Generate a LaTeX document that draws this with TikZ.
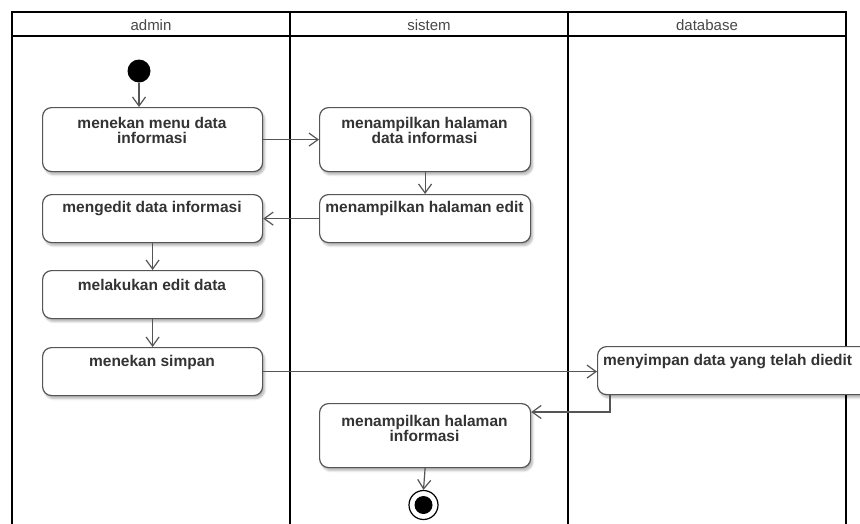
\documentclass[tikz,border=0pt]{standalone}
\usepackage{fontspec}
\setmainfont{Liberation Sans}
\usetikzlibrary{arrows.meta,shadows.blur}
\definecolor{ink}{HTML}{333333}
\definecolor{edge}{HTML}{555555}

\begin{document}
\begin{tikzpicture}[x=1pt,y=-1pt,
  lane/.style={line width=2pt, draw=black},
  act/.style={draw=edge, line width=1.2pt, fill=white, rounded corners=9pt,
    anchor=north west, inner sep=0pt,
    blur shadow={shadow xshift=2pt, shadow yshift=-3pt, shadow opacity=30, shadow blur steps=6}},
  acttext/.style={font=\bfseries\fontsize{15.5}{15}\selectfont, text=ink, align=center, inner sep=0pt},
  flow/.style={draw=edge, line width=1.2pt, -{Straight Barb[length=9pt,width=13pt,line width=1.2pt]}},
  head/.style={font=\fontsize{15}{16}\selectfont, text=ink!90!white}
]
\useasboundingbox (0,0) rectangle (860,523);
\clip (0,0) rectangle (860,523);

% swimlanes
\draw[lane] (12,540) -- (12,12) -- (846,12) -- (846,540);
\draw[lane] (12,36) -- (846,36);
\draw[lane] (290,12) -- (290,540);
\draw[lane] (568,12) -- (568,540);
\node[head] (hadmin) at (151,25) {admin};
\node[head] (hsistem) at (429,25) {sistem};
\node[head] (hdb) at (707,25) {database};

% initial node
\node[circle, fill=black, minimum size=23pt, inner sep=0pt] (start) at (139,71) {};

% admin lane
\node[act, minimum width=220pt, minimum height=64pt] (a1) at (42,107) {};
\node[acttext] (a1t) at (152,130) {menekan menu data\\informasi};
\node[act, minimum width=220pt, minimum height=48pt] (a2) at (42,194) {};
\node[acttext] (a2t) at (152,209) {mengedit data informasi};
\node[act, minimum width=220pt, minimum height=48pt] (a3) at (42,270) {};
\node[acttext] (a3t) at (152,285) {melakukan edit data};
\node[act, minimum width=220pt, minimum height=48pt] (a4) at (42,347) {};
\node[acttext] (a4t) at (152,362) {menekan simpan};

% sistem lane
\node[act, minimum width=211pt, minimum height=64pt] (s1) at (319,107) {};
\node[acttext] (s1t) at (424.5,130) {menampilkan halaman\\data informasi};
\node[act, minimum width=211pt, minimum height=48pt] (s2) at (319,194) {};
\node[acttext] (s2t) at (424.5,208) {menampilkan halaman edit};
\node[act, minimum width=211pt, minimum height=64pt] (s3) at (319,403) {};
\node[acttext] (s3t) at (424.5,428) {menampilkan halaman\\informasi};

% database lane
\node[act, minimum width=280pt, minimum height=48pt] (d1) at (597,346) {};
\node[acttext, anchor=west] (d1t) at (603,362) {menyimpan data yang telah diedit};

% final node
\node[circle, draw=black, line width=1.2pt, fill=white, minimum size=29pt, inner sep=0pt] (end) at (423.5,505) {};
\node[circle, fill=black, minimum size=18pt, inner sep=0pt] (endd) at (end) {};

% control flows
\draw[flow] (start) -- (start |- a1.north);
\draw[flow] (a1.east) -- (s1.west);
\draw[flow] (s1.south) -- (s2.north);
\draw[flow] (s2.west) -- (a2.east);
\draw[flow] (a2.south) -- (a3.north);
\draw[flow] (a3.south) -- (a4.north);
\draw[flow] (a4.east) -- (a4.east -| d1.west);
\coordinate (j) at (610,412);
\draw[flow] (d1.south -| j) -- (j) -- (s3.east |- j);
\draw[flow] (s3.south) -- (end.north);
\end{tikzpicture}
\end{document}
